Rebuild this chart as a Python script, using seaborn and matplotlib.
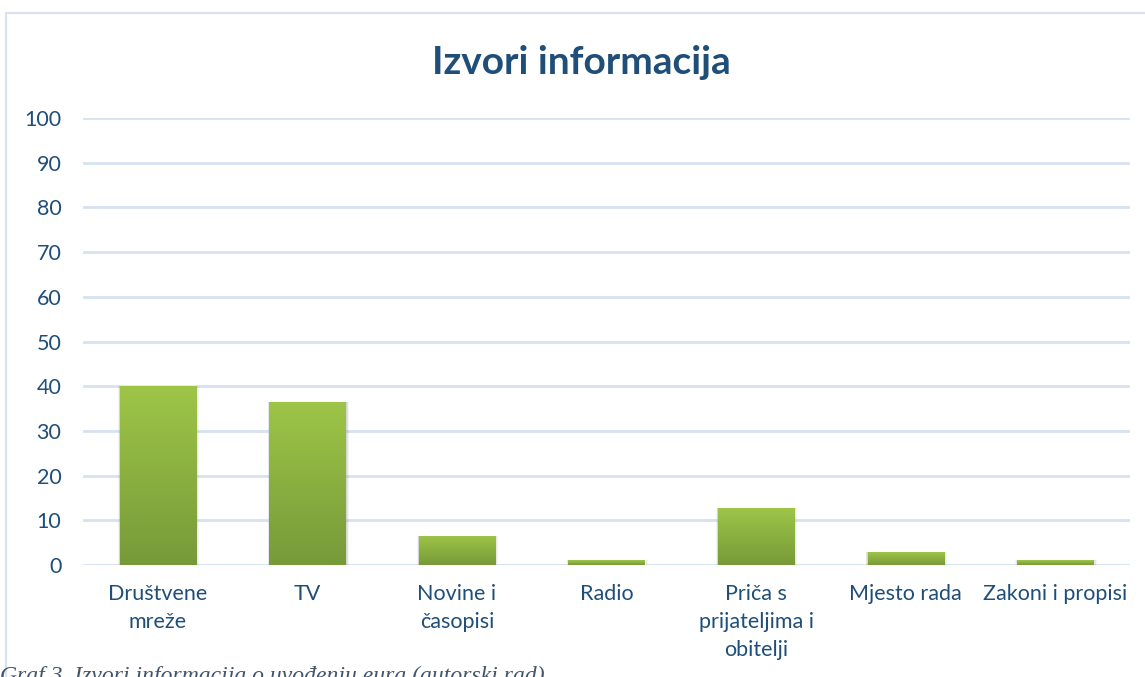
import numpy as np
import pandas as pd
import seaborn as sns
import matplotlib.pyplot as plt
from matplotlib.colors import LinearSegmentedColormap
from matplotlib.patches import Rectangle

# ===== Data ==========================================================================
categories = ["Društvene\nmreže", "TV", "Novine i\nčasopisi", "Radio",
              "Priča s\nprijateljima i\nobitelji", "Mjesto rada", "Zakoni i propisi"]
values = [40.0, 36.5, 6.5, 1.1, 12.75, 2.9, 1.1]
y_ticks = [0, 10, 20, 30, 40, 50, 60, 70, 80, 90, 100]

title = "Izvori informacija"
caption = "Graf 3. Izvori informacija o uvođenju eura (autorski rad)"

# ===== Style =========================================================================
sns.set_style("white")
plt.rcParams['font.family'] = ['Lato', 'DejaVu Sans']

text_color = "#1F4E79"
grid_color = "#D6E2F2"
green_top = "#9EC548"
green_bottom = "#779A39"

df = pd.DataFrame({"source": categories, "value": values})

fig = plt.figure(figsize=(11.45, 6.77), dpi=100)
ax = fig.add_axes([83 / 1145, 1 - 565 / 677, (1130 - 83) / 1145, (565 - 118) / 677])

sns.barplot(data=df, x="source", y="value", ax=ax, color=green_top, width=0.51,
            saturation=1, zorder=3)

# gradient fill for each bar
cmap = LinearSegmentedColormap.from_list("g", [green_bottom, green_top])
gradient = np.linspace(0, 1, 256).reshape(-1, 1)
for patch in ax.patches:
    x0, y0 = patch.get_x(), patch.get_y()
    w, h = patch.get_width(), patch.get_height()
    # soft shadow
    for i, a in enumerate([0.10, 0.07, 0.04]):
        d = 0.012 * (i + 1)
        sh = Rectangle((x0 - d * 0.3, y0 - d * 8), w + d * 0.9, h + d * 8,
                       facecolor="#000000", alpha=a, edgecolor="none", zorder=2)
        ax.add_patch(sh)
    patch.set_facecolor("none")
    im = ax.imshow(gradient, cmap=cmap, origin="lower", aspect="auto",
                   extent=[x0, x0 + w, y0, y0 + h], zorder=3.5)
    im.set_clip_path(patch)

ax.set_xlim(-0.5, len(categories) - 0.5)
ax.set_ylim(0, 100)
ax.set_yticks(y_ticks)
ax.yaxis.grid(True, color=grid_color, linewidth=2, zorder=0)
ax.set_axisbelow(True)
for s in ax.spines.values():
    s.set_visible(False)
ax.set_xlabel("")
ax.set_ylabel("")
ax.tick_params(axis="both", length=0, labelsize=15.5, colors=text_color)
ax.tick_params(axis="y", pad=15.5)
ax.tick_params(axis="x", pad=14)
for lbl in ax.get_xticklabels():
    lbl.set_linespacing(1.5)

fig.text(581 / 1145, 1 - 62 / 677, title, fontsize=28, fontweight="bold",
         color=text_color, ha="center", va="center")

# outer frame of the chart object
frame = Rectangle((6 / 1145, -0.1), 1.2, 1 - 13 / 677 + 0.1, transform=fig.transFigure,
                  facecolor="none", edgecolor=grid_color, linewidth=1.5)
fig.add_artist(frame)

fig.text(0, 1 - 666 / 677, caption, fontsize=17, fontstyle="italic",
         family=["Liberation Serif"], color="#44546A", va="top", ha="left")

fig.savefig("out.png", dpi=100)
